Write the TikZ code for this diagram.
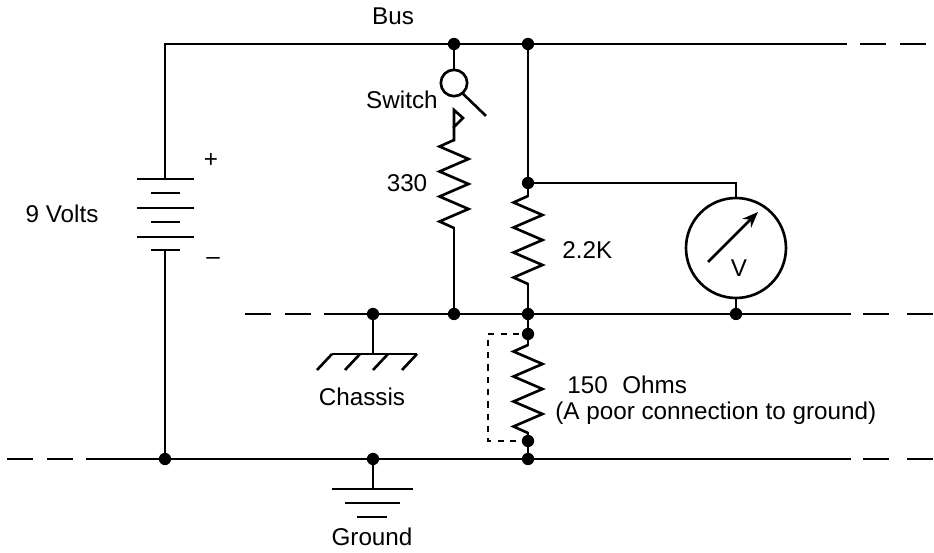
\documentclass[tikz,border=0pt]{standalone}
\usepackage{fontspec}
\setmainfont{Liberation Sans}
\usetikzlibrary{arrows.meta}
\tikzset{
  wire/.style={line width=1.5pt, line cap=rect},
  jdot/.style={circle, fill=black, inner sep=0pt, minimum size=7pt},
  lbl/.style={inner sep=0pt, font=\fontsize{13.8}{16}\selectfont},
}
% zigzag resistor hanging down from a named point
\newcommand\ckres[1]{\draw[wire, line cap=butt, line join=miter] (#1) -- ++(-14.5,6.5)
  -- ++(29,12.5) -- ++(-29,12.5) -- ++(29,12.5) -- ++(-29,12.5)
  -- ++(29,12.5) -- ++(-29,12.5) -- ++(14.5,6.5) coordinate (#1end);}
\begin{document}
\begin{tikzpicture}[x=0.02cm, y=-0.02cm]
\useasboundingbox (0,0) rectangle (934,553);
% bus, chassis and ground lines
\coordinate (busL) at (165,44);
\coordinate (busR) at (846,44);
\coordinate (chL) at (325,314);
\coordinate (chR) at (850,314);
\coordinate (gndL) at (87,459);
\coordinate (gndR) at (850,459);
\draw[wire] (busL) -- (busR);
\draw[wire] (chL) -- (chR);
\draw[wire] (gndL) -- (gndR);
\foreach \xa in {860,900} \draw[wire, line cap=butt] (\xa,44) -- ++(26,0);
\foreach \xa in {863,907} {
  \draw[wire, line cap=butt] (\xa,314) -- ++(26,0);
  \draw[wire, line cap=butt] (\xa,459) -- ++(26,0);
}
\foreach \xa in {245,285} \draw[wire, line cap=butt] (\xa,314) -- ++(26,0);
\foreach \xa in {7,47} \draw[wire, line cap=butt] (\xa,459) -- ++(26,0);
\node[lbl] (bus) at (393,16) {Bus};
% battery
\coordinate (batT) at (165,179);
\coordinate (batB) at (165,250);
\coordinate (batG) at (165,459);
\draw[wire] (busL) -- (batT);
\draw[wire] (batB) -- (batG);
\foreach \ya in {179,208,237} \draw[wire, line cap=butt] (137,\ya) -- (194,\ya);
\foreach \ya in {193,222,250} \draw[wire, line cap=butt] (151,\ya) -- (180,\ya);
\node[lbl] (plus) at (211,161) {+};
\node[lbl] (minus) at (213,261) {\textendash};
\node[lbl] (volts) at (62,214) {9 Volts};
% switch and 330 resistor
\coordinate (swT) at (454,44);
\node[circle, draw, line width=1.5pt, minimum size=15pt, inner sep=0pt] (swC) at (454,83) {};
\coordinate (swBlade) at (485,115);
\coordinate (swK) at (454,110);
\coordinate (r330) at (454,140);
\coordinate (swB) at (454,314);
\draw[wire] (swT) -- (swC.north);
\draw[wire] (swC.-50) -- (swBlade);
\draw[wire, line join=miter] (r330) -- (swK) -- ++(9,8) -- ++(-9,9);
\ckres{r330}
\draw[wire] (r330end) -- (swB);
\node[lbl, anchor=east] (swlbl) at (438,100) {Switch};
\node[lbl] (l330) at (407,183) {330};
% 2.2K column and meter
\coordinate (colT) at (528,44);
\coordinate (colM) at (528,183);
\coordinate (r22) at (528,196);
\coordinate (colC) at (528,314);
\draw[wire] (colT) -- (r22);
\ckres{r22}
\draw[wire] (r22end) -- (colC);
\node[lbl, anchor=west] (l22) at (562,250) {2.2K};
\node[circle, draw, line width=1.5pt, inner sep=0pt, minimum size=2cm] (meter) at (736,248) {};
\coordinate (mtrT) at (736,183);
\coordinate (mtrB) at (736,314);
\draw[wire] (colM) -- (mtrT) -- (meter.north);
\draw[wire] (meter.south) -- (mtrB);
\draw[line width=1.5pt, -{Stealth[length=9pt, width=7pt]}] (708,262) -- (758,212);
\node[lbl] (vlbl) at (739,268) {V};
% chassis symbol
\coordinate (chJ) at (373,314);
\coordinate (chS) at (373,354);
\draw[wire] (chJ) -- (chS);
\draw[wire, line cap=butt] (332,354) -- (417,354);
\foreach \xa in {332,360,388,417} \draw[wire, line cap=butt] (\xa,354) -- ++(-15,16);
\node[lbl] (chlbl) at (362,397) {Chassis};
% 150 ohm poor ground
\coordinate (pgT) at (528,334);
\coordinate (r150) at (528,345);
\coordinate (pgB) at (528,441);
\coordinate (pgG) at (528,459);
\draw[wire] (colC) -- (r150);
\ckres{r150}
\draw[wire] (r150end) -- (pgG);
\draw[line width=1.5pt, dash pattern=on 3.5pt off 3.5pt] (519,334) -- (488,334) -- (488,441) -- (519,441);
\node[lbl, anchor=west] (l150) at (567,385) {150\hspace{0.6em}Ohms};
\node[lbl, anchor=west] (lpoor) at (555,413) {(A poor connection to ground)};
% ground symbol
\coordinate (gJ) at (373,459);
\coordinate (gS) at (373,489);
\draw[wire] (gJ) -- (gS);
\draw[wire, line cap=butt] (332,489) -- (413,489);
\draw[wire, line cap=butt] (345,503) -- (400,503);
\draw[wire, line cap=butt] (357,517) -- (387,517);
\node[lbl] (glbl) at (372,537) {Ground};
% junction dots
\foreach \j in {swT,colT,colM,swB,chJ,colC,mtrB,pgT,pgB,pgG,gJ,batG}
  \node[jdot] at (\j) {};
\end{tikzpicture}
\end{document}
